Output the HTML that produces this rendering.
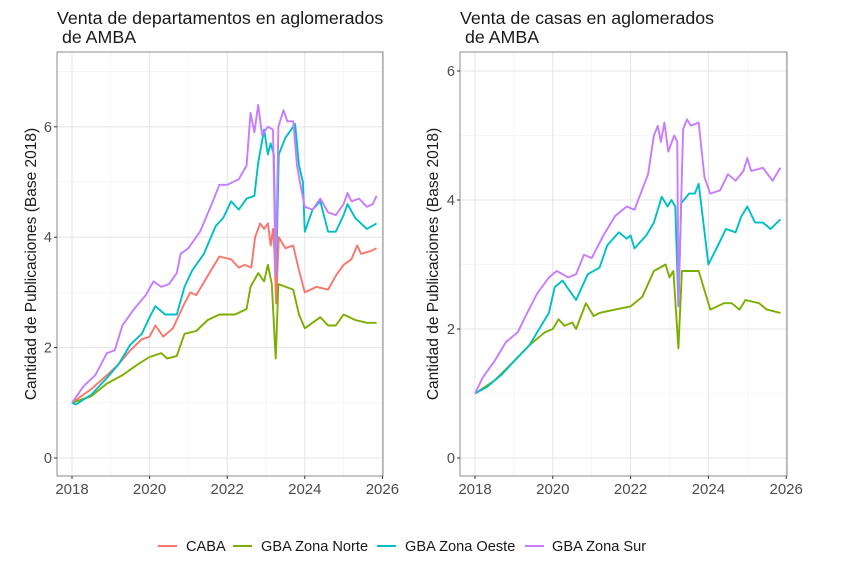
<!DOCTYPE html>
<html><head><meta charset="utf-8"><style>
body{margin:0;background:#fff;}
svg{display:block;font-family:"Liberation Sans",Arial,sans-serif;}
</style></head><body>
<svg id="s" width="856" height="580" xmlns="http://www.w3.org/2000/svg">
<rect width="856" height="580" fill="#fff"/>
<text x="57" y="24" font-size="17.8" fill="#1a1a1a">Venta de departamentos en aglomerados</text>
<text x="57" y="43" font-size="17.8" fill="#1a1a1a">&#160;de AMBA</text>
<text x="460" y="24" font-size="17.8" fill="#1a1a1a">Venta de casas en aglomerados</text>
<text x="460" y="43" font-size="17.8" fill="#1a1a1a">&#160;de AMBA</text>
<text transform="translate(36,264) rotate(-90)" text-anchor="middle" font-size="15.5" fill="#1a1a1a">Cantidad de Publicaciones (Base 2018)</text>
<text transform="translate(438,264) rotate(-90)" text-anchor="middle" font-size="15.5" fill="#1a1a1a">Cantidad de Publicaciones (Base 2018)</text>
<g id="p1"></g><g id="p2"></g>
<g font-size="14.6">
<line x1="158" y1="546" x2="177" y2="546" stroke="#F8766D" stroke-width="2"/><text x="186" y="551" fill="#1a1a1a">CABA</text>
<line x1="233" y1="546" x2="252" y2="546" stroke="#7CAE00" stroke-width="2"/><text x="261" y="551" fill="#1a1a1a">GBA Zona Norte</text>
<line x1="377" y1="546" x2="396" y2="546" stroke="#00BFC4" stroke-width="2"/><text x="405" y="551" fill="#1a1a1a">GBA Zona Oeste</text>
<line x1="525" y1="546" x2="544" y2="546" stroke="#C77CFF" stroke-width="2"/><text x="552" y="551" fill="#1a1a1a">GBA Zona Sur</text>
</g>
</svg>
<script>
const NS="http://www.w3.org/2000/svg";
function el(g,t,a,txt){const e=document.createElementNS(NS,t);for(const k in a)e.setAttribute(k,a[k]);if(txt!==undefined)e.textContent=txt;g.appendChild(e);return e;}
const col={c:"#F8766D",n:"#7CAE00",o:"#00BFC4",s:"#C77CFF"};
function panel(id,L,R,T,B,x0,pxy,y0,pxv,yt,minors,series){
 const g=document.getElementById(id);
 const X=y=>x0+(y-2018)*pxy, Y=v=>y0-v*pxv;
 for(const m of minors) el(g,"line",{x1:L,x2:R,y1:Y(m),y2:Y(m),stroke:"#f0f0f0","stroke-width":0.6});
 for(let yr=2019;yr<=2025;yr+=2) el(g,"line",{x1:X(yr),x2:X(yr),y1:T,y2:B,stroke:"#f0f0f0","stroke-width":0.6});
 for(const v of yt) el(g,"line",{x1:L,x2:R,y1:Y(v),y2:Y(v),stroke:"#e6e6e6","stroke-width":1.1});
 for(let yr=2018;yr<=2026;yr+=2) el(g,"line",{x1:X(yr),x2:X(yr),y1:T,y2:B,stroke:"#e6e6e6","stroke-width":1.1});
 for(const k of ["c","n","o","s"]){ if(!series[k])continue;
  const d=series[k].map((p,i)=>(i?"L":"M")+X(p[0]).toFixed(1)+","+Y(p[1]).toFixed(1)).join("");
  el(g,"path",{d:d,fill:"none",stroke:col[k],"stroke-width":1.9,"stroke-linejoin":"round"});}
 el(g,"rect",{x:L,y:T,width:R-L,height:B-T,fill:"none",stroke:"#333","stroke-width":0.8,opacity:0.7});
 for(const v of yt){el(g,"line",{x1:L-3,x2:L,y1:Y(v),y2:Y(v),stroke:"#333"});el(g,"text",{x:L-5,y:Y(v)+5,"text-anchor":"end","font-size":14.5,fill:"#4d4d4d"},v);}
 for(let yr=2018;yr<=2026;yr+=2){el(g,"line",{x1:X(yr),x2:X(yr),y1:B,y2:B+3,stroke:"#333"});el(g,"text",{x:X(yr),y:B+18,"text-anchor":"middle","font-size":15,fill:"#4d4d4d"},yr);}
}
const P=a=>{const r=[];for(let i=0;i<a.length;i+=2)r.push([a[i],a[i+1]]);return r;};
panel("p1",57,383,52,476,72,38.8,458,55.2,[0,2,4,6],[1,3,5,7],{
s:P([2018,1.0,2018.3,1.3,2018.6,1.5,2018.9,1.9,2019.1,1.95,2019.3,2.4,2019.6,2.7,2019.9,2.95,2020.1,3.2,2020.3,3.1,2020.5,3.15,2020.7,3.35,2020.8,3.7,2021,3.8,2021.3,4.1,2021.6,4.6,2021.8,4.95,2022,4.95,2022.3,5.05,2022.5,5.3,2022.6,6.25,2022.7,5.9,2022.8,6.4,2022.9,5.85,2023.05,6.0,2023.18,5.95,2023.25,3.3,2023.32,6.0,2023.45,6.3,2023.55,6.1,2023.7,6.1,2023.8,5.3,2023.9,4.9,2024.0,4.55,2024.2,4.5,2024.4,4.7,2024.6,4.45,2024.8,4.4,2025,4.6,2025.1,4.8,2025.2,4.65,2025.4,4.7,2025.6,4.55,2025.75,4.6,2025.85,4.75]),
o:P([2018,1.0,2018.1,0.97,2018.5,1.15,2018.9,1.45,2019.2,1.7,2019.5,2.05,2019.8,2.25,2020,2.55,2020.15,2.75,2020.4,2.6,2020.7,2.6,2020.9,3.1,2021.1,3.4,2021.4,3.7,2021.7,4.2,2021.9,4.35,2022.1,4.65,2022.3,4.5,2022.5,4.7,2022.7,4.75,2022.8,5.35,2022.95,5.95,2023.05,5.5,2023.12,5.7,2023.2,5.5,2023.26,3.3,2023.33,5.5,2023.5,5.8,2023.75,6.05,2023.85,5.3,2023.95,5.0,2024.0,4.1,2024.2,4.5,2024.4,4.65,2024.6,4.1,2024.8,4.1,2025,4.4,2025.1,4.6,2025.3,4.35,2025.6,4.15,2025.85,4.25]),
c:P([2018,1.0,2018.5,1.25,2018.9,1.5,2019.2,1.7,2019.5,1.95,2019.8,2.15,2020,2.2,2020.15,2.4,2020.35,2.2,2020.6,2.35,2020.9,2.8,2021.05,3.0,2021.2,2.95,2021.5,3.3,2021.8,3.65,2022.1,3.6,2022.3,3.45,2022.45,3.5,2022.62,3.45,2022.72,4.0,2022.85,4.25,2022.95,4.15,2023.05,4.25,2023.12,3.85,2023.18,4.15,2023.22,3.7,2023.26,2.8,2023.33,4.0,2023.5,3.8,2023.7,3.85,2023.85,3.4,2024.0,3.0,2024.3,3.1,2024.6,3.05,2024.8,3.3,2025,3.5,2025.2,3.6,2025.35,3.85,2025.45,3.7,2025.7,3.75,2025.85,3.8]),
n:P([2018,1.0,2018.5,1.12,2018.9,1.35,2019.3,1.5,2019.7,1.7,2020,1.83,2020.3,1.9,2020.45,1.8,2020.7,1.85,2020.9,2.25,2021.2,2.3,2021.5,2.5,2021.8,2.6,2022.2,2.6,2022.5,2.7,2022.6,3.1,2022.8,3.35,2022.95,3.2,2023.05,3.5,2023.15,3.15,2023.25,1.8,2023.32,3.15,2023.7,3.05,2023.85,2.6,2024.0,2.35,2024.4,2.55,2024.6,2.4,2024.8,2.4,2025,2.6,2025.3,2.5,2025.6,2.45,2025.85,2.45])
});
panel("p2",460,787,52,476,475,38.9,458,64.5,[0,2,4,6],[1,3,5],{
s:P([2018,1.0,2018.2,1.25,2018.5,1.5,2018.8,1.8,2019.1,1.95,2019.3,2.2,2019.6,2.55,2019.9,2.8,2020.1,2.9,2020.4,2.8,2020.6,2.85,2020.8,3.15,2021,3.1,2021.3,3.45,2021.6,3.75,2021.9,3.9,2022.1,3.85,2022.45,4.4,2022.6,5.0,2022.7,5.15,2022.78,4.9,2022.87,5.2,2022.97,4.75,2023.12,5.0,2023.2,4.9,2023.23,2.35,2023.35,5.1,2023.45,5.25,2023.55,5.15,2023.75,5.2,2023.9,4.35,2024.05,4.1,2024.3,4.15,2024.5,4.4,2024.7,4.3,2024.9,4.45,2025.0,4.65,2025.1,4.45,2025.4,4.5,2025.65,4.3,2025.85,4.5]),
o:P([2018,1.0,2018.3,1.1,2018.7,1.3,2019,1.5,2019.4,1.75,2019.7,2.05,2019.9,2.25,2020.05,2.65,2020.25,2.75,2020.6,2.45,2020.9,2.85,2021.2,2.95,2021.4,3.3,2021.7,3.5,2021.9,3.4,2022,3.45,2022.1,3.25,2022.4,3.45,2022.6,3.65,2022.8,4.05,2022.95,3.9,2023.05,4.0,2023.15,3.9,2023.23,2.35,2023.3,3.95,2023.5,4.1,2023.65,4.1,2023.75,4.25,2023.85,3.75,2024.0,3.0,2024.25,3.3,2024.45,3.55,2024.7,3.5,2024.85,3.75,2025,3.9,2025.2,3.65,2025.4,3.65,2025.6,3.55,2025.85,3.7]),
n:P([2018,1.0,2018.5,1.2,2019,1.5,2019.4,1.75,2019.8,1.95,2020,2.0,2020.15,2.15,2020.3,2.05,2020.5,2.1,2020.6,2.0,2020.85,2.4,2021.05,2.2,2021.2,2.25,2021.6,2.3,2022,2.35,2022.3,2.5,2022.6,2.9,2022.9,3.0,2023,2.8,2023.1,2.9,2023.23,1.7,2023.32,2.9,2023.75,2.9,2023.9,2.6,2024.05,2.3,2024.4,2.4,2024.6,2.4,2024.8,2.3,2024.95,2.45,2025.3,2.4,2025.5,2.3,2025.85,2.25])
});
</script>
</body></html>
